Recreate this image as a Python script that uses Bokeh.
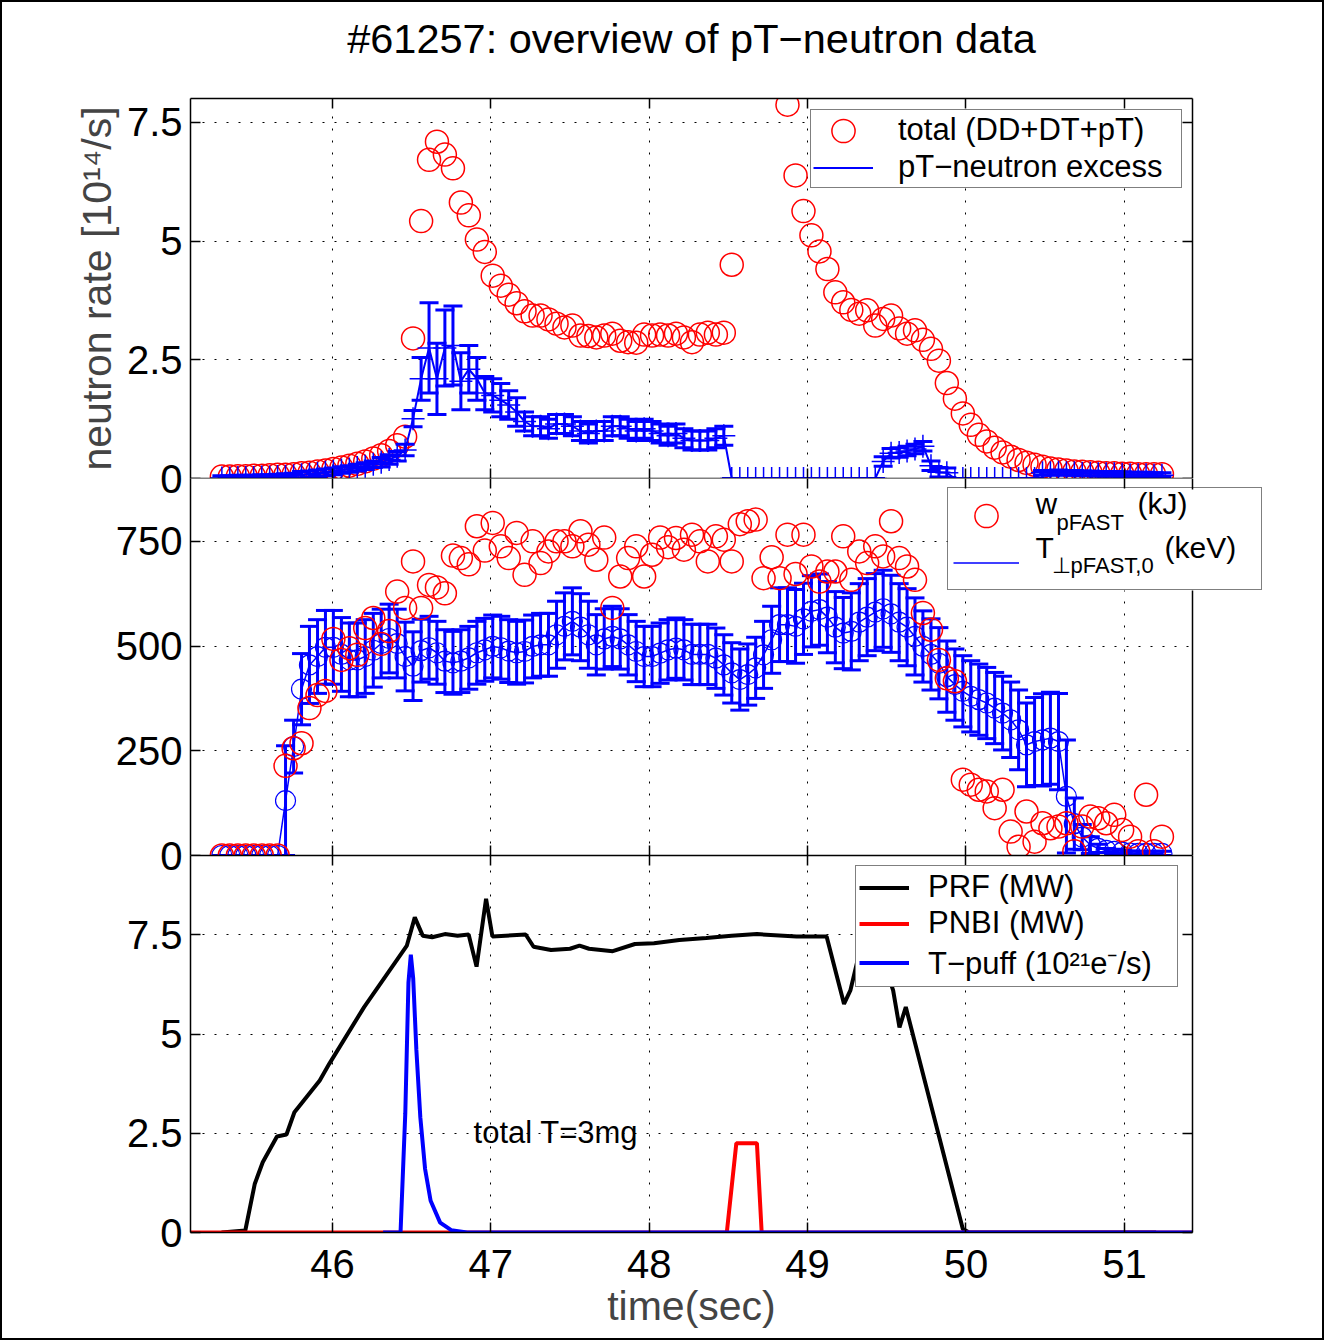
import numpy as np
from bokeh.plotting import figure
from bokeh.layouts import column
from bokeh.models import (Range1d, LinearAxis, FixedTicker, ColumnDataSource, Whisker,
                          TeeHead, Legend, LegendItem, Label, Title, Span, BoxAnnotation,
                          CustomJSTickFormatter)
from bokeh.embed import file_html
from bokeh.resources import INLINE

FONT = "Liberation Sans"

# ---------------- data ----------------
time_s = [45.302, 45.352, 45.403, 45.453, 45.503, 45.554, 45.604, 45.654, 45.704, 45.755,
          45.805, 45.855, 45.906, 45.956, 46.006, 46.057, 46.107, 46.157, 46.207, 46.258,
          46.308, 46.358, 46.409, 46.459, 46.509, 46.560, 46.610, 46.660, 46.710, 46.761,
          46.811, 46.861, 46.912, 46.962, 47.012, 47.063, 47.113, 47.163, 47.213, 47.264,
          47.314, 47.364, 47.415, 47.465, 47.515, 47.566, 47.616, 47.666, 47.716, 47.767,
          47.817, 47.867, 47.918, 47.968, 48.018, 48.069, 48.119, 48.169, 48.219, 48.270,
          48.320, 48.370, 48.421, 48.471, 48.521, 48.572, 48.622, 48.672, 48.722, 48.773,
          48.823, 48.873, 48.924, 48.974, 49.024, 49.075, 49.125, 49.175, 49.225, 49.276,
          49.326, 49.376, 49.427, 49.477, 49.527, 49.578, 49.628, 49.678, 49.728, 49.779,
          49.829, 49.879, 49.930, 49.980, 50.030, 50.081, 50.131, 50.181, 50.231, 50.282,
          50.332, 50.382, 50.433, 50.483, 50.533, 50.584, 50.634, 50.684, 50.734, 50.785,
          50.835, 50.885, 50.936, 50.986, 51.036, 51.087, 51.137, 51.187, 51.237]

total_rate = [0.04, 0.04, 0.05, 0.05, 0.06, 0.06, 0.07, 0.08, 0.08, 0.09,
              0.11, 0.12, 0.15, 0.17, 0.20, 0.23, 0.27, 0.31, 0.36, 0.42,
              0.49, 0.58, 0.70, 0.88, 2.95, 5.42, 6.71, 7.09, 6.82, 6.53,
              5.81, 5.54, 5.03, 4.77, 4.27, 4.06, 3.87, 3.69, 3.52, 3.43,
              3.43, 3.35, 3.26, 3.18, 3.22, 3.01, 3.00, 2.97, 3.01, 3.05,
              2.90, 2.87, 2.86, 3.03, 3.01, 3.03, 3.01, 3.05, 2.97, 2.87,
              3.03, 3.07, 3.03, 3.07, 4.50, None, None, None, None, None,
              None, 7.87, 6.38, 5.63, 5.12, 4.78, 4.41, 3.92, 3.71, 3.55,
              3.47, 3.54, 3.22, 3.36, 3.43, 3.16, 3.05, 3.12, 2.92, 2.73,
              2.48, 2.01, 1.68, 1.37, 1.13, 0.92, 0.78, 0.65, 0.55, 0.46,
              0.39, 0.33, 0.29, 0.25, 0.21, 0.19, 0.17, 0.15, 0.14, 0.13,
              0.12, 0.11, 0.11, 0.10, 0.10, 0.09, 0.09, 0.09, 0.09]

excess_rate = [0.01, 0.01, 0.02, 0.02, 0.02, 0.03, 0.03, 0.04, 0.05, 0.06,
               0.08, 0.09, 0.11, 0.13, 0.15, 0.18, 0.20, 0.23, 0.26, 0.30,
               0.34, 0.40, 0.47, 0.60, 1.26, 2.10, 2.75, 2.10, 2.75, 2.80,
               2.05, 2.30, 2.10, 1.80, 1.75, 1.65, 1.55, 1.40, 1.20, 1.10,
               1.10, 1.05, 1.15, 1.15, 1.10, 1.00, 0.95, 1.00, 1.00, 1.10,
               1.10, 1.05, 1.00, 1.05, 1.00, 0.95, 0.90, 0.95, 0.85, 0.80,
               0.80, 0.80, 0.85, 0.90, 0.0, 0.0, 0.0, 0.0, 0.0, 0.0,
               0.0, 0.0, 0.0, 0.0, 0.0, 0.0, 0.0, 0.0, 0.0, 0.0,
               0.0, 0.0, 0.0, 0.36, 0.53, 0.55, 0.58, 0.62, 0.68, 0.27,
               0.13, 0.12, 0.0, 0.0, 0.0, 0.0, 0.0, 0.0, 0.0, 0.0,
               0.0, 0.0, 0.0, 0.12, 0.12, 0.13, 0.12, 0.12, 0.11, 0.11,
               0.10, 0.10, 0.10, 0.09, 0.08, 0.08, 0.08, 0.07, 0.07]

excess_err = [0.05, 0.05, 0.05, 0.05, 0.05, 0.05, 0.05, 0.05, 0.05, 0.05,
              0.07, 0.07, 0.07, 0.07, 0.07, 0.07, 0.07, 0.07, 0.07, 0.07,
              0.10, 0.10, 0.10, 0.12, 0.17, 0.45, 0.95, 0.75, 0.80, 0.83,
              0.60, 0.50, 0.45, 0.35, 0.35, 0.35, 0.30, 0.30, 0.20, 0.20,
              0.20, 0.20, 0.20, 0.20, 0.20, 0.20, 0.20, 0.20, 0.20, 0.20,
              0.20, 0.20, 0.20, 0.20, 0.20, 0.20, 0.20, 0.20, 0.20, 0.20,
              0.20, 0.20, 0.20, 0.20, 0.0, 0.0, 0.0, 0.0, 0.0, 0.0,
              0.0, 0.0, 0.0, 0.0, 0.0, 0.0, 0.0, 0.0, 0.0, 0.0,
              0.0, 0.0, 0.0, 0.10, 0.10, 0.10, 0.10, 0.10, 0.10, 0.10,
              0.10, 0.10, 0.0, 0.0, 0.0, 0.0, 0.0, 0.0, 0.0, 0.0,
              0.0, 0.0, 0.0, 0.05, 0.05, 0.05, 0.05, 0.05, 0.05, 0.05,
              0.05, 0.05, 0.05, 0.05, 0.05, 0.05, 0.05, 0.05, 0.05]

w_fast = [0, 0, 0, 0, 0, 0, 0, 0, 214, 256,
          268, 352, 383, 393, 517, 467, 495, 479, 543, 567,
          505, 536, 630, 591, 702, 591, 646, 640, 626, 716,
          710, 695, 786, 728, 794, 738, 710, 770, 670, 750,
          698, 726, 750, 750, 738, 774, 742, 706, 759, 591,
          666, 710, 738, 666, 718, 759, 736, 758, 730, 766,
          750, 702, 762, 754, 702, 791, 798, 802, 662, 712,
          662, 766, 672, 766, 690, 654, 678, 678, 762, 658,
          726, 698, 738, 714, 798, 710, 690, 658, 579, 539,
          467, 423, 416, 181, 169, 157, 153, 113, 157, 57,
          21, 105, 33, 77, 65, 69, 77, 10, 69, 93,
          89, 77, 97, 61, 45, 10, 145, 10, 45]

t_perp = [0, 0, 0, 0, 0, 0, 0, 0, 131, 260,
          397, 455, 475, 497, 497, 480, 467, 467, 475, 490,
          506, 518, 506, 475, 452, 489, 496, 484, 464, 460,
          464, 472, 484, 491, 499, 496, 488, 484, 487, 499,
          503, 503, 527, 547, 559, 545, 527, 503, 517, 523,
          517, 503, 487, 475, 475, 483, 491, 495, 491, 480,
          480, 480, 471, 455, 436, 420, 432, 448, 479, 515,
          551, 551, 547, 565, 583, 587, 569, 545, 531, 535,
          557, 569, 581, 589, 577, 557, 545, 523, 499, 480,
          459, 427, 408, 392, 380, 372, 364, 352, 340, 324,
          300, 264, 272, 276, 280, 272, 141, 76, 44, 25,
          17, 12, 10, 8, 6, 5, 5, 5, 5]

t_perp_err = [0, 0, 0, 0, 0, 0, 0, 0, 131, 63,
              85, 92, 88, 88, 88, 88, 88, 88, 88, 88,
              82, 82, 82, 82, 82, 75, 75, 75, 75, 75,
              75, 75, 75, 75, 75, 75, 75, 75, 75, 75,
              75, 75, 80, 80, 80, 80, 80, 72, 72, 72,
              72, 72, 72, 72, 72, 72, 72, 72, 72, 72,
              72, 72, 72, 72, 72, 73, 73, 73, 80, 80,
              88, 88, 88, 85, 85, 85, 85, 85, 85, 92,
              92, 92, 92, 92, 92, 92, 92, 92, 85, 85,
              85, 85, 85, 85, 85, 85, 85, 85, 88, 90,
              95, 100, 105, 110, 110, 115, 135, 61, 30, 20,
              10, 5, 5, 5, 5, 5, 5, 5, 5]

prf_t = [45.30, 45.45, 45.51, 45.56, 45.65, 45.71, 45.76, 45.92, 45.98, 46.20,
         46.47, 46.52, 46.57, 46.63, 46.71, 46.79, 46.86, 46.91, 46.97, 47.01,
         47.22, 47.27, 47.38, 47.50, 47.56, 47.62, 47.77, 47.91, 48.03, 48.19,
         48.36, 48.52, 48.68, 48.93, 49.12, 49.23, 49.27, 49.33, 49.45, 49.54,
         49.58, 49.62, 49.98, 50.02, 51.20]
prf_mw = [0.0, 0.05, 1.23, 1.77, 2.42, 2.47, 3.03, 3.83, 4.25, 5.68,
          7.23, 7.94, 7.48, 7.44, 7.52, 7.48, 7.51, 6.70, 8.41, 7.46,
          7.51, 7.20, 7.12, 7.15, 7.23, 7.15, 7.09, 7.27, 7.29, 7.37,
          7.42, 7.48, 7.52, 7.46, 7.46, 5.76, 6.10, 7.10, 7.20, 6.10,
          5.17, 5.68, 0.09, 0.0, 0.0]

pnbi_t = [45.10, 48.49, 48.55, 48.68, 48.71, 51.43]
pnbi_mw = [0.0, 0.0, 2.25, 2.25, 0.0, 0.0]

tpuff_t = [46.32, 46.43, 46.46, 46.48, 46.495, 46.51, 46.53, 46.555, 46.585, 46.62,
           46.68, 46.75, 46.85, 51.43]
tpuff_rate = [0.0, 0.0, 3.0, 6.3, 7.0, 6.4, 4.6, 2.9, 1.6, 0.8,
              0.25, 0.06, 0.0, 0.0]

x_ticks = [46, 47, 48, 49, 50, 51]
top_ticks = [0, 2.5, 5, 7.5]
mid_ticks = [0, 250, 500, 750]
bot_ticks = [0, 2.5, 5, 7.5]

# ---------------- helpers ----------------
X0, X1 = 45.104, 51.43
FW = 1002                 # axes width in px
MID_FW = 1074             # middle plot frame reaches further right to hold its legend
PXS = FW / (X1 - X0)      # px per second
x_range = Range1d(X0, X1)
x_range_mid = Range1d(X0, X0 + MID_FW / PXS)   # same px-per-second scale
MID_TOP = 900
MID_H = 377
BLUE = "#0000ff"
RED = "#ff0000"
OV = 30  # overlap border between stacked panels
TICK_FS = "40px"


def style_axis(ax, ticks, labels, line=True):
    ax.ticker = FixedTicker(ticks=ticks)
    ax.axis_line_color = "black" if line else None
    ax.axis_line_width = 1.5
    ax.major_tick_line_color = "black"
    ax.major_tick_line_width = 1.5
    ax.major_tick_in = 10
    ax.major_tick_out = 0
    ax.minor_tick_line_color = None
    if labels:
        ax.formatter = CustomJSTickFormatter(code="return String(tick)")
        ax.major_label_text_font = FONT
        ax.major_label_text_font_size = TICK_FS
        ax.major_label_text_color = "black"
    else:
        ax.major_label_text_font_size = "1px"
        ax.major_label_text_color = None
        ax.major_label_standoff = 0


def make_panel(y_end, yticks, frame_h, top_b, bot_b, x_labels, transparent, margin=None,
               xr=x_range, frame_w=FW, right_axis=True, h_lines=True):
    kw = {}
    if margin is not None:
        kw["margin"] = margin
    p = figure(x_range=xr, y_range=Range1d(0, y_end), frame_width=frame_w, frame_height=frame_h,
               min_border_left=188, min_border_right=130 - (frame_w - FW), min_border_top=top_b,
               min_border_bottom=bot_b, output_backend="svg", toolbar_location=None,
               tools="", title=None, **kw)
    p.background_fill_color = "white"
    if transparent:
        p.border_fill_alpha = 0
    else:
        p.border_fill_color = "white"
    p.outline_line_color = None
    xb = p.below[0]
    yl = p.left[0]
    style_axis(xb, x_ticks, x_labels, h_lines)
    style_axis(yl, yticks, True)
    yl.major_label_standoff = 8
    if x_labels:
        xb.major_label_standoff = 17
    top = LinearAxis()
    style_axis(top, x_ticks, False, h_lines)
    p.add_layout(top, "above")
    if right_axis:
        right = LinearAxis()
        style_axis(right, yticks, False)
        p.add_layout(right, "right")
    for g, t in ((p.xgrid[0], x_ticks), (p.ygrid[0], yticks)):
        g.ticker = FixedTicker(ticks=t)
        g.grid_line_color = "black"
        g.grid_line_dash = "2 10"
        g.grid_line_width = 1
    return p, xb, yl


def legend_common(leg):
    leg.border_line_color = "black"
    leg.border_line_width = 1.5
    leg.background_fill_color = "white"
    leg.background_fill_alpha = 1
    leg.label_text_font = FONT
    leg.label_text_color = "black"
    leg.label_text_font_size = "31px"
    leg.margin = 0


# ---------------- top panel ----------------
p1, xb1, yl1 = make_panel(8, top_ticks, 380, 96, OV, False, False)
# spacer between the plot and the title, then the title itself (outermost)
p1.add_layout(Title(text=" ", text_font_size="10px", standoff=24), "above")
p1.add_layout(Title(text="#61257: overview of pT\u2212neutron data", align="center",
                    text_font=FONT, text_font_size="41.5px", text_font_style="normal",
                    text_color="black", standoff=0), "above")
yl1.axis_label = "neutron rate [10\u00b9\u2074/s]"
yl1.axis_label_text_font = FONT
yl1.axis_label_text_font_size = "41px"
yl1.axis_label_text_font_style = "normal"
yl1.axis_label_standoff = 4

t_arr = np.array(time_s, dtype=float)
ex = np.array(excess_rate, dtype=float)
ex_e = np.array(excess_err, dtype=float)
src_top = ColumnDataSource(dict(t=t_arr, total=np.array(total_rate, dtype=float),
                                ex=ex, lo=ex - ex_e, hi=ex + ex_e))
r_total = p1.ellipse(x="t", y="total", width=23, height=23, width_units="screen",
                     height_units="screen", source=src_top, fill_color=None,
                     line_color=RED, line_width=1.5)
wk1 = Whisker(source=src_top, base="t", upper="hi", lower="lo", dimension="height",
              line_color=BLUE, line_width=3, level="glyph",
              upper_head=TeeHead(size=19, line_color=BLUE, line_width=3),
              lower_head=TeeHead(size=19, line_color=BLUE, line_width=3))
p1.add_layout(wk1)
r_ex_line = p1.line(x="t", y="ex", source=src_top, line_color=BLUE, line_width=2)
p1.scatter(x="t", y="ex", source=src_top, marker="cross", size=23,
           line_color=BLUE, line_width=1.5)

leg1 = Legend(items=[LegendItem(label="total (DD+DT+pT)", renderers=[r_total]),
                     LegendItem(label="pT\u2212neutron excess", renderers=[r_ex_line])],
              location=(620, 290), glyph_width=60, glyph_height=29, label_height=29,
              label_width=281, label_standoff=25, spacing=1, padding=2)
legend_common(leg1)
p1.add_layout(leg1)

# ---------------- middle panel ----------------
p2, xb2, yl2 = make_panel(MID_TOP, mid_ticks, MID_H, OV, OV, False, True,
                          margin=(-2 * OV, 0, 0, 0), xr=x_range_mid, frame_w=MID_FW,
                          right_axis=False, h_lines=False)
# blank out the strip beyond the axes' right edge and draw that edge
p2.add_layout(BoxAnnotation(left=X1, fill_color="white", fill_alpha=1.0, line_color=None,
                            level="underlay"))
p2.add_layout(Span(location=X1, dimension="height", line_color="black", line_width=1.5))

tp = np.array(t_perp, dtype=float)
tp_e = np.array(t_perp_err, dtype=float)
src_mid = ColumnDataSource(dict(t=t_arr, w=np.array(w_fast, dtype=float),
                                tp=tp, lo=tp - tp_e, hi=tp + tp_e))
wk2 = Whisker(source=src_mid, base="t", upper="hi", lower="lo", dimension="height",
              line_color=BLUE, line_width=3,
              upper_head=TeeHead(size=19, line_color=BLUE, line_width=3),
              lower_head=TeeHead(size=19, line_color=BLUE, line_width=3))
p2.add_layout(wk2)
r_tp_line = p2.line(x="t", y="tp", source=src_mid, line_color=BLUE, line_width=1.5)
p2.scatter(x="t", y="tp", source=src_mid, marker="circle", size=20, fill_color=None,
           line_color=BLUE, line_width=1.2)
r_w = p2.ellipse(x="t", y="w", width=23, height=23, width_units="screen",
                 height_units="screen", source=src_mid, fill_color=None,
                 line_color=RED, line_width=1.5)

# legend box (px offsets from the frame's lower-left corner, and size)
L2X, L2Y, L2W, L2H = 757, 265, 313, 101
py_per_unit = MID_H / MID_TOP
p2.add_layout(BoxAnnotation(left=X0 + L2X / PXS, right=X0 + (L2X + L2W) / PXS,
                            bottom=L2Y / py_per_unit, top=(L2Y + L2H) / py_per_unit,
                            fill_color="white", fill_alpha=1.0, line_color=None))
for txt, lx, ly, fs in (("w", 50.439, 840.5, "30px"),
                        ("pFAST", 50.572, 795.0, "22px"),
                        ("(kJ)", 51.083, 840.5, "30px"),
                        ("T", 50.439, 735.4, "30px"),
                        ("\u22a5pFAST,0", 50.540, 692.4, "22px"),
                        ("(keV)", 51.254, 735.4, "30px")):
    p2.add_layout(Label(x=lx, y=ly, text=txt, text_font=FONT, text_font_size=fs,
                        text_color="black", text_baseline="alphabetic", text_align="left"))
leg2 = Legend(items=[LegendItem(label=" ", renderers=[r_w]),
                     LegendItem(label=" ", renderers=[r_tp_line])],
              location=(L2X, L2Y), glyph_width=66, glyph_height=29, label_height=44,
              label_width=227, label_standoff=10, spacing=3, padding=5)
legend_common(leg2)
leg2.background_fill_alpha = 0
p2.add_layout(leg2)

# ---------------- bottom panel ----------------
p3, xb3, yl3 = make_panel(9.5, bot_ticks, 377, OV, 106, True, True, margin=(-2 * OV, 0, 0, 0))
xb3.axis_label = "time(sec)"
xb3.axis_label_text_font = FONT
xb3.axis_label_text_font_size = "41px"
xb3.axis_label_text_font_style = "normal"
xb3.axis_label_standoff = 2

r_prf = p3.line(prf_t, prf_mw, line_color="black", line_width=4)
r_nbi = p3.line(pnbi_t, pnbi_mw, line_color=RED, line_width=4)
r_puff = p3.line(tpuff_t, tpuff_rate, line_color=BLUE, line_width=4)

leg3 = Legend(items=[LegendItem(label="PRF (MW)", renderers=[r_prf]),
                     LegendItem(label="PNBI (MW)", renderers=[r_nbi]),
                     LegendItem(label="T\u2212puff (10\u00b2\u00b9e\u207b/s)", renderers=[r_puff])],
              location=(665, 245), glyph_width=50, glyph_height=29, label_height=29,
              label_width=246, label_standoff=19, spacing=0, padding=3)
legend_common(leg3)
p3.add_layout(leg3)

p3.add_layout(Label(x=46.891, y=2.52, text="total T=3mg", text_font=FONT,
                    text_font_size="31px", text_color="black", text_baseline="middle",
                    text_align="left"))

layout = column(p1, p2, p3, styles={"border": "2px solid black", "background-color": "white"})

open("out.html", "w").write(file_html(layout, INLINE, title="pT-neutron overview"))
